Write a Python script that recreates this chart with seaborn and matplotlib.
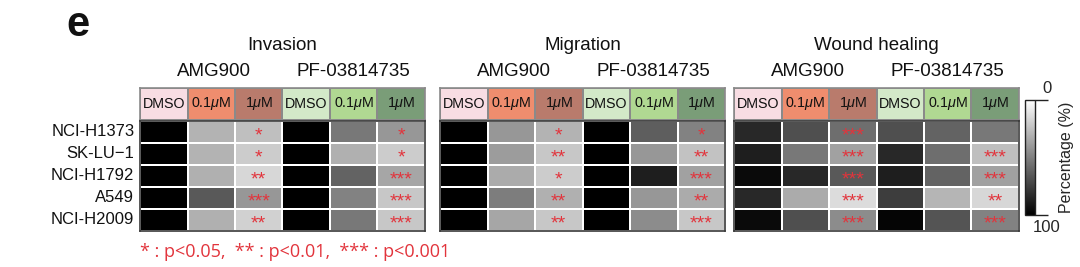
import numpy as np
import pandas as pd
import matplotlib
matplotlib.use("Agg")
import matplotlib.pyplot as plt
from matplotlib.colors import ListedColormap
import seaborn as sns

sns.set_theme(style="white")
plt.rcParams['font.family'] = ['Liberation Sans', 'DejaVu Sans']
plt.rcParams['mathtext.fontset'] = 'custom'
plt.rcParams['mathtext.it'] = 'Liberation Sans:italic'
plt.rcParams['mathtext.rm'] = 'Liberation Sans'

cell_lines = ["NCI-H1373", "SK-LU\u22121", "NCI-H1792", "A549", "NCI-H2009"]
conditions = ["DMSO", "0.1$\\mu$M", "1$\\mu$M", "DMSO", "0.1$\\mu$M", "1$\\mu$M"]
drugs = ["AMG900", "PF-03814735"]
panels = ["Invasion", "Migration", "Wound healing"]
header_colors = ["#f8dde3", "#ef8d6e", "#b97b6c", "#d3e9c8", "#b0d892", "#7a9d78"]

invasion = [
    [100, 30, 25, 100, 53, 41],
    [100, 30, 20, 100, 31, 20],
    [100, 31, 16, 100, 61, 35],
    [100, 65, 41, 100, 49, 22],
    [100, 31, 18, 100, 53, 22],
]
migration = [
    [100, 41, 30, 100, 63, 49],
    [100, 39, 22, 100, 41, 24],
    [100, 33, 20, 100, 88, 37],
    [100, 51, 31, 100, 41, 33],
    [100, 35, 22, 100, 45, 22],
]
wound = [
    [84, 69, 57, 69, 61, 53],
    [88, 53, 37, 84, 57, 25],
    [96, 84, 65, 88, 61, 37],
    [84, 33, 14, 76, 29, 16],
    [96, 69, 45, 98, 67, 49],
]
sig_invasion = [
    ["", "", "*", "", "", "*"],
    ["", "", "*", "", "", "*"],
    ["", "", "**", "", "", "***"],
    ["", "", "***", "", "", "***"],
    ["", "", "**", "", "", "***"],
]
sig_migration = [
    ["", "", "*", "", "", "*"],
    ["", "", "**", "", "", "**"],
    ["", "", "*", "", "", "***"],
    ["", "", "**", "", "", "**"],
    ["", "", "**", "", "", "***"],
]
sig_wound = [
    ["", "", "***", "", "", ""],
    ["", "", "***", "", "", "***"],
    ["", "", "***", "", "", "***"],
    ["", "", "***", "", "", "**"],
    ["", "", "***", "", "", "***"],
]
values = [invasion, migration, wound]
sigs = [sig_invasion, sig_migration, sig_wound]

W, H = 1080, 267
fig = plt.figure(figsize=(W / 100, H / 100), dpi=100)

def fx(px):
    return px / W

def fy(py):
    return 1 - py / H

lefts = [140, 440, 734]
pw = 285
hm_top, hm_bot = 121, 231
hd_top, hd_bot = 88, 120
star_red = "#e2343c"

mappable = None
for p in range(3):
    L = lefts[p]
    # header
    axh = fig.add_axes([fx(L), fy(hd_bot), fx(pw), (hd_bot - hd_top) / H])
    hdf = pd.DataFrame([list(range(6))])
    sns.heatmap(hdf, ax=axh, cmap=ListedColormap(header_colors), vmin=-0.5, vmax=5.5,
                cbar=False, linewidths=1.2, linecolor="#8a8a8a",
                xticklabels=False, yticklabels=False)
    for i, c in enumerate(conditions):
        axh.text(i + 0.5, 0.5, c, ha="center", va="center", fontsize=10.3, color="#111111")
    for s in axh.spines.values():
        s.set_visible(True)
        s.set_color("#8a8a8a")
        s.set_linewidth(1.2)

    # heatmap
    axm = fig.add_axes([fx(L), fy(hm_bot), fx(pw), (hm_bot - hm_top) / H])
    df = pd.DataFrame(values[p], index=cell_lines, columns=range(6))
    annot = np.array(sigs[p])
    sns.heatmap(df, ax=axm, cmap="gray_r", vmin=0, vmax=100, cbar=False,
                linewidths=1.3, linecolor="white", annot=annot, fmt="",
                annot_kws={"color": star_red, "fontsize": 14, "va": "center"},
                xticklabels=False, yticklabels=(p == 0))
    for t in axm.texts:
        x, y = t.get_position()
        t.set_position((x, y + 0.18))
    for s in axm.spines.values():
        s.set_visible(True)
        s.set_color("#3a3a3a")
        s.set_linewidth(1.2)
    if p == 0:
        axm.tick_params(axis="y", length=0, pad=4, labelsize=12)
        for t in axm.get_yticklabels():
            t.set_rotation(0)
            t.set_color("#111111")
    else:
        axm.set_yticks([])
    axm.set_xlabel("")
    axm.set_ylabel("")
    mappable = axm.collections[0]

    # titles
    cx = L + pw / 2
    fig.text(fx(cx), fy(45), panels[p], ha="center", va="center", fontsize=13.5, color="#111111")
    fig.text(fx(L + pw * 0.26), fy(72), drugs[0], ha="center", va="center", fontsize=13.5, color="#111111")
    fig.text(fx(L + pw * 0.75), fy(72), drugs[1], ha="center", va="center", fontsize=13.5, color="#111111")

# colorbar
cax = fig.add_axes([fx(1025), fy(215), fx(10), 115 / H])
cb = fig.colorbar(mappable, cax=cax)
cax.invert_yaxis()
cb.set_ticks([0, 100])
cb.set_ticklabels(["", ""])
cax.tick_params(axis="y", length=9, width=1, color="#222222", right=True, direction="out", pad=0)
cb.outline.set_edgecolor("#222222")
cb.outline.set_linewidth(1)
cax.text(2.2, 1.1, "0", transform=cax.transAxes, ha="center", va="center", fontsize=12)
cax.text(2.2, -0.11, "100", transform=cax.transAxes, ha="center", va="center", fontsize=12)
cax.set_ylabel("Percentage (%)", fontsize=11.5, rotation=90, va="center")
cax.yaxis.set_label_position("right")
cax.yaxis.set_label_coords(3.4, 0.5)

# panel letter and legend
fig.text(fx(78), fy(25), "e", ha="center", va="center", fontsize=30, fontweight="bold", color="#111111")
fig.text(fx(140), fy(252), "* : p<0.05,  ** : p<0.01,  *** : p<0.001", ha="left", va="center",
         fontsize=13, color=star_red, family=["Open Sans", "DejaVu Sans"])

fig.savefig("out.png", dpi=100, facecolor="white")
